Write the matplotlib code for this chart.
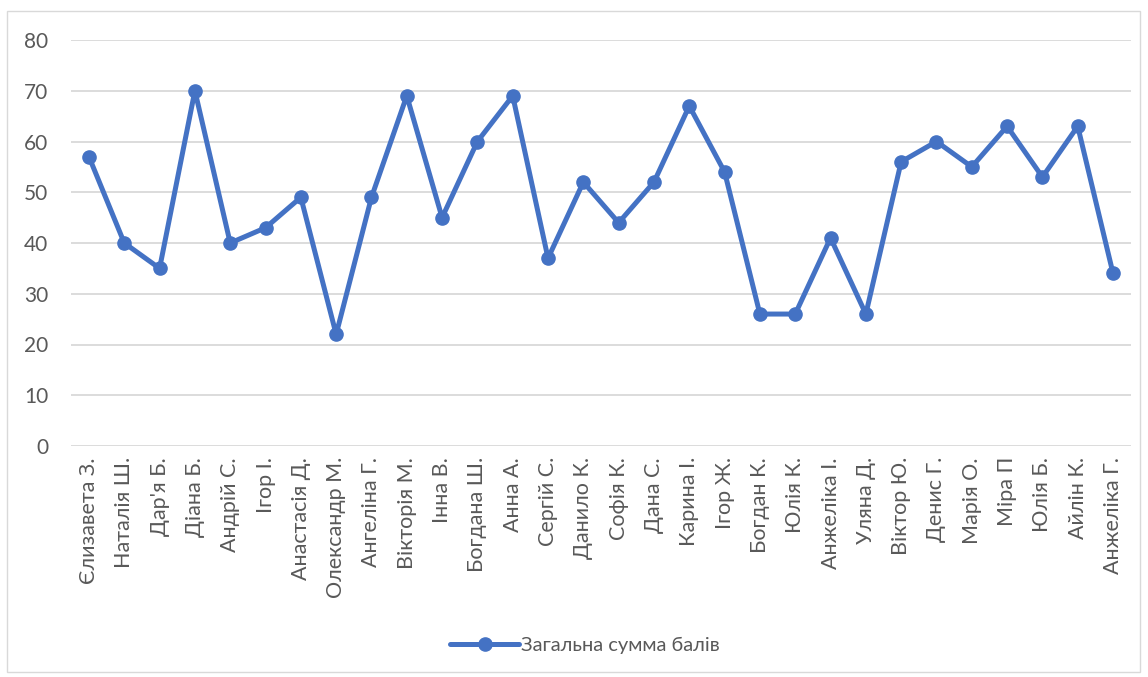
import matplotlib.pyplot as plt
from matplotlib.patches import Rectangle

plt.rcParams['font.family'] = ['Lato', 'DejaVu Sans']

names = ["Єлизавета З.", "Наталія Ш.", "Дар'я Б.", "Діана Б.", "Андрій С.", "Ігор І.",
         "Анастасія Д.", "Олександр М.", "Ангеліна Г.", "Вікторія М.", "Інна В.",
         "Богдана Ш.", "Анна А.", "Сергій С.", "Данило К.", "Софія К.", "Дана С.",
         "Карина І.", "Ігор Ж.", "Богдан К.", "Юлія К.", "Анжеліка І.", "Уляна Д.",
         "Віктор Ю.", "Денис Г.", "Марія О.", "Міра П", "Юлія Б.", "Айлін К.",
         "Анжеліка Г."]
scores = [57, 40, 35, 70, 40, 43, 49, 22, 49, 69, 45, 60, 69, 37, 52, 44, 52,
          67, 54, 26, 26, 41, 26, 56, 60, 55, 63, 53, 63, 34]
yticks = [0, 10, 20, 30, 40, 50, 60, 70, 80]
series_name = "Загальна сумма балів"

blue = '#4472C4'
text_gray = '#595959'

fig = plt.figure(figsize=(11.48, 6.77), dpi=100)
fig.patches.append(Rectangle((7 / 1148, 5 / 677), 1133 / 1148, 661 / 677,
                             transform=fig.transFigure, fill=False,
                             edgecolor='#d9d9d9', linewidth=1))

ax = fig.add_axes([71.3 / 1148, 1 - 446 / 677, (1130.7 - 71.3) / 1148, 406 / 677])
x = range(len(names))
ax.plot(x, scores, color=blue, linewidth=3.6, marker='o', markersize=9.5,
        label=series_name, solid_capstyle='round', solid_joinstyle='round', zorder=3)

ax.set_xlim(-0.5, len(names) - 0.5)
ax.set_ylim(0, 80)
ax.set_yticks(yticks)
ax.set_xticks(list(x))
ax.set_xticklabels(names, rotation=90, fontsize=15.5, color=text_gray)
ax.tick_params(axis='y', labelsize=15, labelcolor=text_gray, length=0, pad=16.5)
ax.tick_params(axis='x', length=0, pad=8)
ax.grid(axis='y', color='#d9d9d9', linewidth=1.3)
ax.set_axisbelow(True)
for s in ax.spines.values():
    s.set_visible(False)

fig.legend(loc='center', bbox_to_anchor=(585 / 1148, 1 - 645 / 677), frameon=False,
           fontsize=14.5, labelcolor=text_gray, handlelength=3.4, handletextpad=0.1)

fig.savefig('out.png', dpi=100)
